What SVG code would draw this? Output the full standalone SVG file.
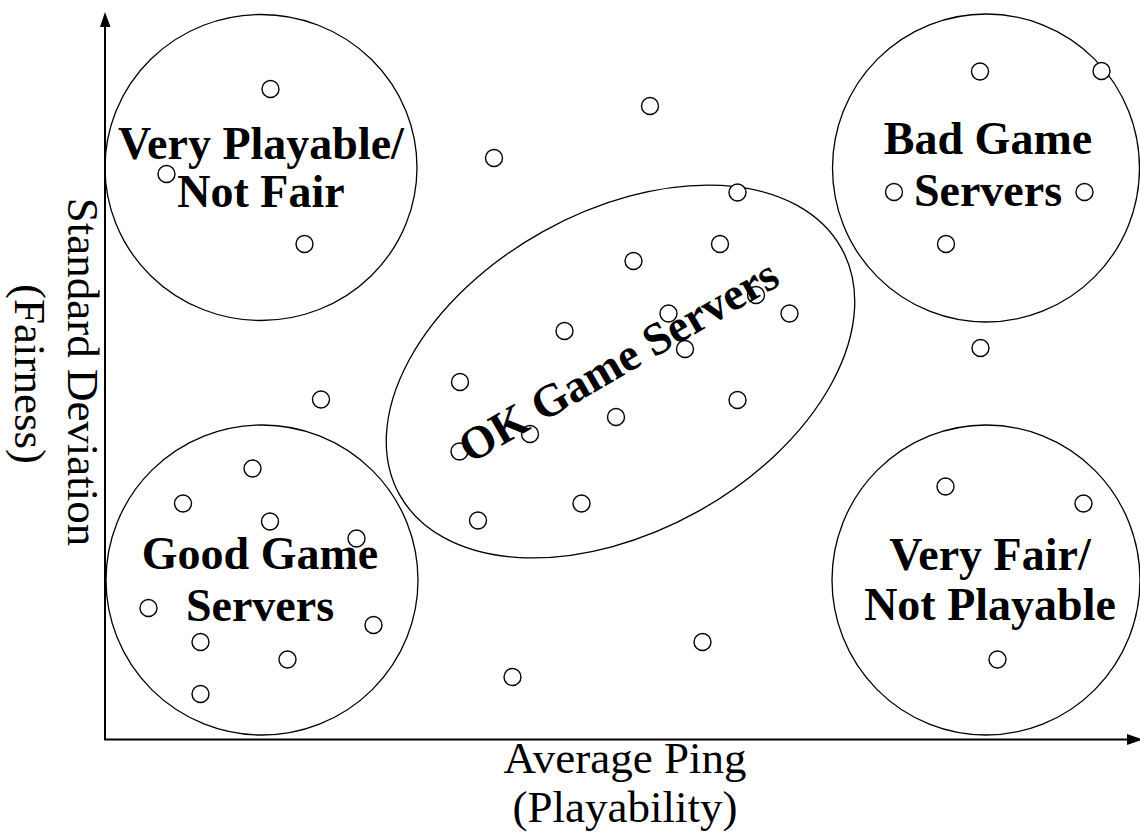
<svg xmlns="http://www.w3.org/2000/svg" width="1140" height="835" viewBox="0 0 1140 835">
<style>
.region{fill:none;stroke:#000;stroke-width:1.3}
.dot{fill:#fff;stroke:#000;stroke-width:1.4}
.lbl{font-family:"Liberation Serif","Times New Roman",serif;font-weight:bold;font-size:46px;fill:#000;text-anchor:middle}
.ax{font-family:"Liberation Serif","Times New Roman",serif;font-size:45px;fill:#000;text-anchor:middle}
.axis{stroke:#000;stroke-width:2;fill:none}
</style>
<rect width="1140" height="835" fill="#fff"/>
<g id="connectors">
<line class="axis" x1="105" y1="740" x2="105" y2="22"/>
<polygon points="100,27 105,12 110.5,27" fill="#000"/>
<line class="axis" x1="104" y1="739.5" x2="1130" y2="739.5"/>
<polygon points="1127,734 1143,739.5 1127,745" fill="#000"/>
</g>
<g id="region-very-playable">
<ellipse class="region" cx="261" cy="167.5" rx="156" ry="153"/>
<text class="lbl" x="261" y="159">Very Playable/</text>
<text class="lbl" x="261" y="207">Not Fair</text>
</g>
<g id="region-bad">
<ellipse class="region" cx="986" cy="168" rx="153.5" ry="154"/>
<text class="lbl" x="988" y="154">Bad Game</text>
<text class="lbl" x="988" y="206">Servers</text>
</g>
<g id="region-good">
<ellipse class="region" cx="262" cy="580" rx="156" ry="155"/>
<text class="lbl" x="260" y="569">Good Game</text>
<text class="lbl" x="260" y="621">Servers</text>
</g>
<g id="region-very-fair">
<ellipse class="region" cx="986" cy="580" rx="154" ry="155"/>
<text class="lbl" x="990" y="570">Very Fair/</text>
<text class="lbl" x="990" y="620">Not Playable</text>
</g>
<g id="region-ok">
<ellipse class="region" cx="620.5" cy="371.5" rx="253" ry="160" transform="rotate(-29.2 620.5 371.5)"/>
</g>
<g id="dots">
<circle class="dot" cx="270.5" cy="89" r="8.5"/>
<circle class="dot" cx="166.5" cy="174" r="8.5"/>
<circle class="dot" cx="304.5" cy="244" r="8.5"/>
<circle class="dot" cx="650" cy="106" r="8.5"/>
<circle class="dot" cx="494" cy="158" r="8.5"/>
<circle class="dot" cx="737.5" cy="192.5" r="8.5"/>
<circle class="dot" cx="720" cy="244" r="8.5"/>
<circle class="dot" cx="633.5" cy="261" r="8.5"/>
<circle class="dot" cx="668.5" cy="313.5" r="8.5"/>
<circle class="dot" cx="564.5" cy="331" r="8.5"/>
<circle class="dot" cx="756" cy="295" r="8.5"/>
<circle class="dot" cx="789.5" cy="313.5" r="8.5"/>
<circle class="dot" cx="685" cy="349" r="8.5"/>
<circle class="dot" cx="460" cy="382" r="8.5"/>
<circle class="dot" cx="321" cy="399.5" r="8.5"/>
<circle class="dot" cx="737.5" cy="400" r="8.5"/>
<circle class="dot" cx="616" cy="417" r="8.5"/>
<circle class="dot" cx="530" cy="434" r="8.5"/>
<circle class="dot" cx="459.5" cy="451.5" r="8.5"/>
<circle class="dot" cx="252.5" cy="468.5" r="8.5"/>
<circle class="dot" cx="183" cy="503.5" r="8.5"/>
<circle class="dot" cx="581.5" cy="503.5" r="8.5"/>
<circle class="dot" cx="270" cy="521.5" r="8.5"/>
<circle class="dot" cx="478" cy="520.5" r="8.5"/>
<circle class="dot" cx="356.5" cy="538.5" r="8.5"/>
<circle class="dot" cx="148.5" cy="608" r="8.5"/>
<circle class="dot" cx="373.5" cy="625" r="8.5"/>
<circle class="dot" cx="200.5" cy="642" r="8.5"/>
<circle class="dot" cx="287.5" cy="659.5" r="8.5"/>
<circle class="dot" cx="702.5" cy="642" r="8.5"/>
<circle class="dot" cx="512.5" cy="677" r="8.5"/>
<circle class="dot" cx="200.5" cy="694" r="8.5"/>
<circle class="dot" cx="980" cy="71.5" r="8.5"/>
<circle class="dot" cx="1101.5" cy="71" r="8.5"/>
<circle class="dot" cx="894" cy="192" r="8.5"/>
<circle class="dot" cx="1084.5" cy="192" r="8.5"/>
<circle class="dot" cx="946" cy="244" r="8.5"/>
<circle class="dot" cx="980.5" cy="348" r="8.5"/>
<circle class="dot" cx="945.5" cy="486.5" r="8.5"/>
<circle class="dot" cx="1083.5" cy="503.5" r="8.5"/>
<circle class="dot" cx="997.5" cy="659.5" r="8.5"/>
</g>
<g id="label-ok">
<text class="lbl" x="626" y="374" transform="rotate(-30 626 374)">OK Game Servers</text>
</g>
<g id="axis-labels">
<text class="ax" x="625" y="773">Average Ping</text>
<text class="ax" x="625" y="822">(Playability)</text>
<text class="ax" transform="translate(68 372) rotate(90)" x="0" y="0">Standard Deviation</text>
<text class="ax" transform="translate(15 374) rotate(90)" x="0" y="0">(Fairness)</text>
</g>
</svg>
